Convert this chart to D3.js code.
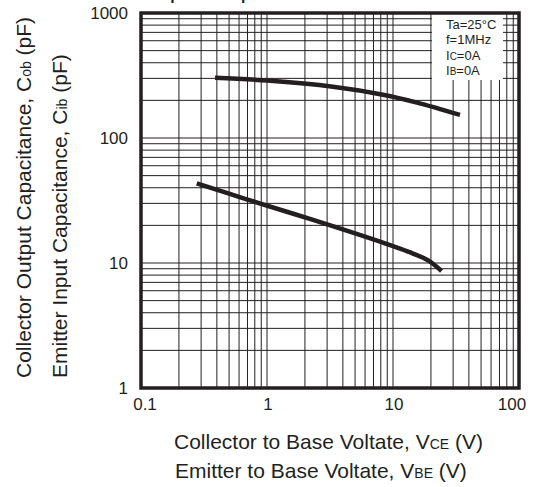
<!DOCTYPE html>
<html>
<head>
<meta charset="utf-8">
<script src="https://cdn.jsdelivr.net/npm/d3@7"></script>
<style>
  body { margin: 0; background: #fff; }
  text { font-family: "Liberation Sans", Arial, sans-serif; fill: #231f20; }
</style>
</head>
<body>
<svg id="chart" width="538" height="487"></svg>
<script>
// curve data
const cobVolts = [0.387, 1.0, 3.34, 8.33, 15.5, 34];
const cobPf = [303, 288, 257, 222, 192, 153];
const cibVolts = [0.277, 0.69, 2.32, 7.89, 14.4, 19, 24.3];
const cibPf = [43.4, 32.3, 22.1, 14.8, 11.9, 10.5, 8.63];

const xTicks = [0.1, 1, 10, 100];
const xTickLabels = ["0.1", "1", "10", "100"];
const yTicks = [1, 10, 100, 1000];
const yTickLabels = ["1", "10", "100", "1000"];

const conditions = [
    ["Ta=25°C", ""],
    ["f=1MHz", ""],
    ["I", "C", "=0A"],
    ["I", "B", "=0A"]
];

const svg = d3.select('#chart');
const ink = "#231f20";

const x = d3.scaleLog().domain([0.1, 100]).range([141, 519]);
const y = d3.scaleLog().domain([1, 1000]).range([388, 13]);

const g = svg.append('g');

// grid
const xGrid = [];
[0.1, 1, 10].forEach(d => { for (let m = 1; m <= 9; m++) xGrid.push(d * m); });
const yGrid = [];
[1, 10, 100].forEach(d => { for (let m = 1; m <= 9; m++) yGrid.push(d * m); });

g.selectAll('.vg').data(xGrid).enter().append('line')
    .attr('x1', d => x(d)).attr('x2', d => x(d))
    .attr('y1', y(1)).attr('y2', y(1000))
    .attr('stroke', ink).attr('stroke-width', 1);

g.selectAll('.hg').data(yGrid).enter().append('line')
    .attr('x1', x(0.1)).attr('x2', x(100))
    .attr('y1', d => y(d)).attr('y2', d => y(d))
    .attr('stroke', ink).attr('stroke-width', 1);

// conditions box
const bx = x(20) + 1, by = y(1000), bw = 503 - bx, bh = 67;
g.append('rect').attr('x', bx).attr('y', by).attr('width', bw).attr('height', bh).attr('fill', '#fff');

conditions.forEach((c, i) => {
    const t = g.append('text').attr('x', 446).attr('y', by + 16 + i * 15.3).attr('font-size', 13);
    t.append('tspan').text(c[0]);
    if (c.length > 2) {
        t.append('tspan').attr('font-size', 10).text(c[1]);
        t.append('tspan').text(c[2]);
    }
});

// curves
const line = d3.line().x(d => x(d[0])).y(d => y(d[1])).curve(d3.curveCatmullRom.alpha(0.5));
const cob = cobVolts.map((v, i) => [v, cobPf[i]]);
const cib = cibVolts.map((v, i) => [v, cibPf[i]]);
[cob, cib].forEach(s => {
    g.append('path').attr('d', line(s))
        .attr('fill', 'none').attr('stroke', ink).attr('stroke-width', 4.5);
});

// frame
g.append('rect')
    .attr('x', x(0.1)).attr('y', y(1000))
    .attr('width', x(100) - x(0.1)).attr('height', y(1) - y(1000))
    .attr('fill', 'none').attr('stroke', ink).attr('stroke-width', 3.5);

// tick labels
g.selectAll('.xl').data(xTicks).enter().append('text')
    .attr('x', (d, i) => x(d) + (i === 0 ? 4 : i === xTicks.length - 1 ? -7 : 1))
    .attr('y', 410)
    .attr('text-anchor', 'middle').attr('font-size', 17)
    .text((d, i) => xTickLabels[i]);

g.selectAll('.yl').data(yTicks).enter().append('text')
    .attr('x', 128).attr('y', d => y(d)).attr('dy', '0.35em')
    .attr('text-anchor', 'end').attr('font-size', 17)
    .text((d, i) => yTickLabels[i]);

// axis titles
const xt1 = g.append('text').attr('x', 174).attr('y', 449).attr('font-size', 21);
xt1.append('tspan').text('Collector to Base Voltate, V');
xt1.append('tspan').attr('font-size', 14).text('CE');
xt1.append('tspan').text(' (V)');

const xt2 = g.append('text').attr('x', 175).attr('y', 478).attr('font-size', 21);
xt2.append('tspan').text('Emitter to Base Voltate, V');
xt2.append('tspan').attr('font-size', 14).text('BE');
xt2.append('tspan').text(' (V)');

const yt1 = g.append('text').attr('transform', 'translate(31,378) rotate(-90)').attr('font-size', 21);
yt1.append('tspan').text('Collector Output Capacitance, C');
yt1.append('tspan').attr('font-size', 14).text('ob');
yt1.append('tspan').text(' (pF)');

const yt2 = g.append('text').attr('transform', 'translate(67,378) rotate(-90)').attr('font-size', 21);
yt2.append('tspan').text('Emitter Input Capacitance, C');
yt2.append('tspan').attr('font-size', 14).text('ib');
yt2.append('tspan').text(' (pF)');

// title, mostly above the visible area (as in the source figure)
g.append('text').attr('x', 131).attr('y', -2).attr('font-size', 24).text('Output Capacitance');
</script>
</body>
</html>
